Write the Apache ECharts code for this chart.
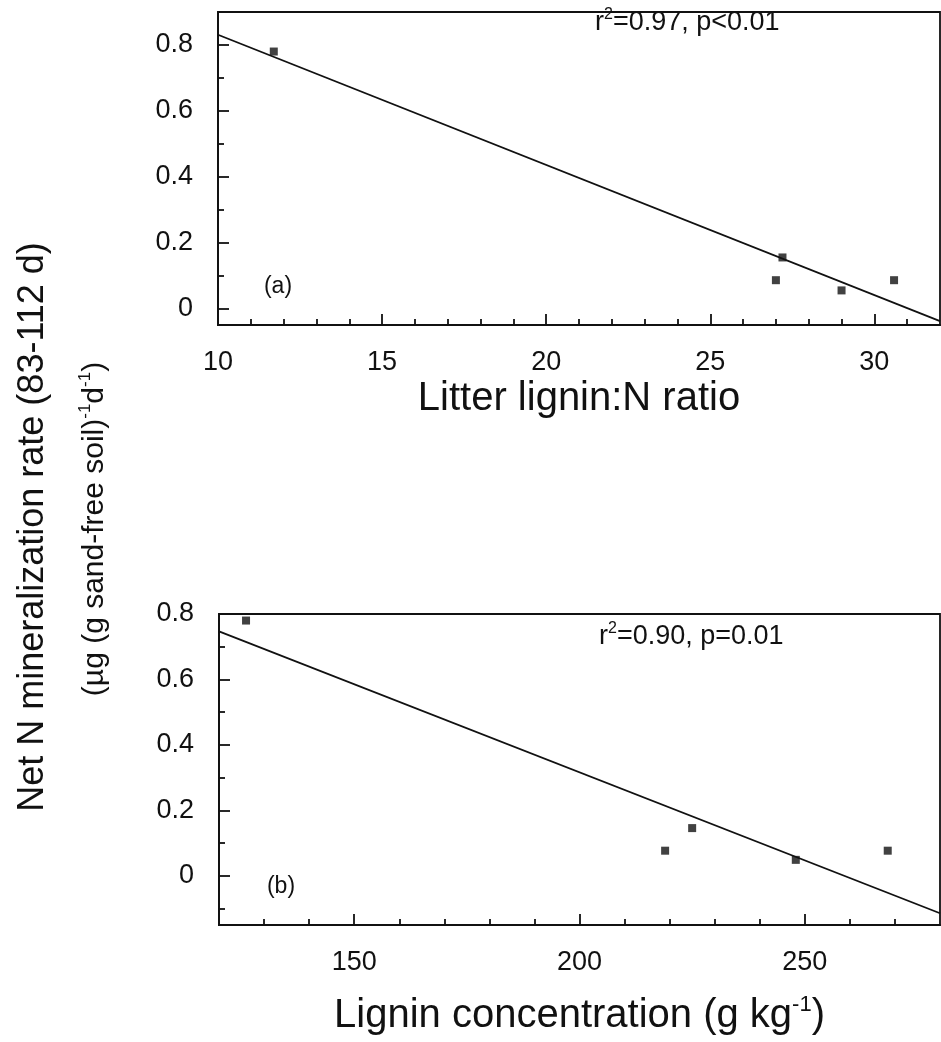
<!DOCTYPE html>
<html>
<head>
<meta charset="utf-8">
<script src="https://cdn.jsdelivr.net/npm/echarts@6/dist/echarts.min.js"></script>
<style>
  html, body { margin: 0; padding: 0; background: #fff; }
  #chart { width: 941px; height: 1042px; }
</style>
</head>
<body>
<div id="chart"></div>
<script>
// ---- Panel (a): litter lignin:N ratio ----
const ligninN = [11.7, 27.0, 27.2, 29.0, 30.6];
const rateA = [0.78, 0.086, 0.155, 0.055, 0.086];
const fitA_x = [10, 32];
const fitA_y = [0.831, -0.038];
const xTicksA = [10, 15, 20, 25, 30];
const xMinorA = [11, 12, 13, 14, 16, 17, 18, 19, 21, 22, 23, 24, 26, 27, 28, 29, 31];
const yTicksA = [0, 0.2, 0.4, 0.6, 0.8];
const yMinorA = [0.1, 0.3, 0.5, 0.7];

// ---- Panel (b): lignin concentration ----
const ligninConc = [126, 219, 225, 248, 268.4];
const rateB = [0.78, 0.077, 0.146, 0.049, 0.077];
const fitB_x = [120, 280];
const fitB_y = [0.747, -0.114];
const xTicksB = [150, 200, 250];
const xMinorB = [130, 140, 160, 170, 180, 190, 210, 220, 230, 240, 260, 270];
const yTicksB = [0, 0.2, 0.4, 0.6, 0.8];
const yMinorB = [-0.1, 0.1, 0.3, 0.5, 0.7];

const FONT = '"Liberation Sans", Arial, Helvetica, sans-serif';
const INK = '#111';
const LW = 1.8;

function pairs(xs, ys) { return xs.map((x, i) => [x, ys[i]]); }
function yFmt(v) { return v === 0 ? '0' : v.toFixed(1); }

function majorX(grid, min, max, labels, ticks, name, nameGap) {
  return {
    type: 'value', gridIndex: grid, min: min, max: max, position: 'bottom',
    name: name, nameLocation: 'middle', nameGap: nameGap,
    nameTextStyle: { fontSize: 40, color: INK, fontFamily: FONT, verticalAlign: 'middle',
      rich: { s: { fontSize: 22, lineHeight: 22, verticalAlign: 'top', fontFamily: FONT, color: INK } }, lineHeight: 44 },
    axisLine: { show: true, onZero: false, lineStyle: { color: INK, width: LW } },
    axisTick: { show: true, inside: true, length: 11, customValues: ticks, lineStyle: { color: INK, width: LW } },
    axisLabel: { show: true, customValues: labels, margin: 24, fontSize: 27, color: INK, fontFamily: FONT },
    splitLine: { show: false }
  };
}
function minorX(grid, min, max, ticks) {
  return {
    type: 'value', gridIndex: grid, min: min, max: max, position: 'bottom', offset: 0,
    axisLine: { show: false, onZero: false },
    axisTick: { show: true, inside: true, length: 6, customValues: ticks, lineStyle: { color: INK, width: LW } },
    axisLabel: { show: false },
    splitLine: { show: false }
  };
}
function majorY(grid, min, max, ticks) {
  return {
    type: 'value', gridIndex: grid, min: min, max: max, position: 'left',
    axisLine: { show: true, onZero: false, lineStyle: { color: INK, width: LW } },
    axisTick: { show: true, inside: true, length: 11, customValues: ticks, lineStyle: { color: INK, width: LW } },
    axisLabel: { show: true, customValues: ticks, margin: 25, fontSize: 27, color: INK, fontFamily: FONT, formatter: yFmt },
    splitLine: { show: false }
  };
}
function minorY(grid, min, max, ticks) {
  return {
    type: 'value', gridIndex: grid, min: min, max: max, position: 'left', offset: 0,
    axisLine: { show: false, onZero: false },
    axisTick: { show: true, inside: true, length: 6, customValues: ticks, lineStyle: { color: INK, width: LW } },
    axisLabel: { show: false },
    splitLine: { show: false }
  };
}

const supRich = { s: { fontSize: 16, fontFamily: FONT, fill: INK, lineHeight: 16, verticalAlign: 'top' } };

const chart = echarts.init(document.getElementById('chart'), null, { renderer: 'canvas' });
chart.setOption({
  backgroundColor: '#fff',
  animation: false,
  textStyle: { fontFamily: FONT, color: INK },
  grid: [
    { left: 218, top: 12, width: 722, height: 313, show: true, borderColor: INK, borderWidth: LW, backgroundColor: 'transparent' },
    { left: 219, top: 614, width: 721, height: 311, show: true, borderColor: INK, borderWidth: LW, backgroundColor: 'transparent' }
  ],
  xAxis: [
    majorX(0, 10, 32, xTicksA, xTicksA.slice(1), 'Litter lignin:N ratio', 71),
    minorX(0, 10, 32, xMinorA),
    majorX(1, 120, 280, xTicksB, xTicksB, 'Lignin concentration (g kg{s|-1})', 91),
    minorX(1, 120, 280, xMinorB)
  ],
  yAxis: [
    majorY(0, -0.05, 0.9, yTicksA),
    minorY(0, -0.05, 0.9, yMinorA),
    majorY(1, -0.15, 0.8, yTicksB),
    minorY(1, -0.15, 0.8, yMinorB)
  ],
  series: [
    { type: 'line', xAxisIndex: 0, yAxisIndex: 0, data: pairs(fitA_x, fitA_y), showSymbol: false, symbol: 'none',
      lineStyle: { color: INK, width: LW }, silent: true, z: 2 },
    { type: 'scatter', xAxisIndex: 0, yAxisIndex: 0, data: pairs(ligninN, rateA), symbol: 'rect', symbolSize: 8,
      itemStyle: { color: INK }, z: 3 },
    { type: 'line', xAxisIndex: 2, yAxisIndex: 2, data: pairs(fitB_x, fitB_y), showSymbol: false, symbol: 'none',
      lineStyle: { color: INK, width: LW }, silent: true, z: 2 },
    { type: 'scatter', xAxisIndex: 2, yAxisIndex: 2, data: pairs(ligninConc, rateB), symbol: 'rect', symbolSize: 8,
      itemStyle: { color: INK }, z: 3 }
  ],
  graphic: [
    { type: 'text', x: 33, y: 527, rotation: Math.PI / 2,
      style: { text: 'Net N mineralization rate (83-112 d)', fontSize: 36, fontFamily: FONT, fill: INK,
               align: 'center', verticalAlign: 'middle' } },
    { type: 'text', x: 95, y: 529, rotation: Math.PI / 2,
      style: { text: '(µg (g sand-free soil){s|-1}d{s|-1})', fontSize: 30, fontFamily: FONT, fill: INK,
               align: 'center', verticalAlign: 'middle', lineHeight: 36,
               rich: { s: { fontSize: 17, fontFamily: FONT, fill: INK, lineHeight: 18, verticalAlign: 'top' } } } },
    { type: 'text', x: 595, y: 23,
      style: { text: 'r{s|2}=0.97, p<0.01', fontSize: 27, fontFamily: FONT, fill: INK,
               align: 'left', verticalAlign: 'middle', lineHeight: 32, rich: supRich } },
    { type: 'text', x: 599, y: 637,
      style: { text: 'r{s|2}=0.90, p=0.01', fontSize: 27, fontFamily: FONT, fill: INK,
               align: 'left', verticalAlign: 'middle', lineHeight: 32, rich: supRich } },
    { type: 'text', x: 278, y: 287,
      style: { text: '(a)', fontSize: 23, fontFamily: FONT, fill: INK, align: 'center', verticalAlign: 'middle' } },
    { type: 'text', x: 281, y: 887,
      style: { text: '(b)', fontSize: 23, fontFamily: FONT, fill: INK, align: 'center', verticalAlign: 'middle' } }
  ]
});
</script>
</body>
</html>
